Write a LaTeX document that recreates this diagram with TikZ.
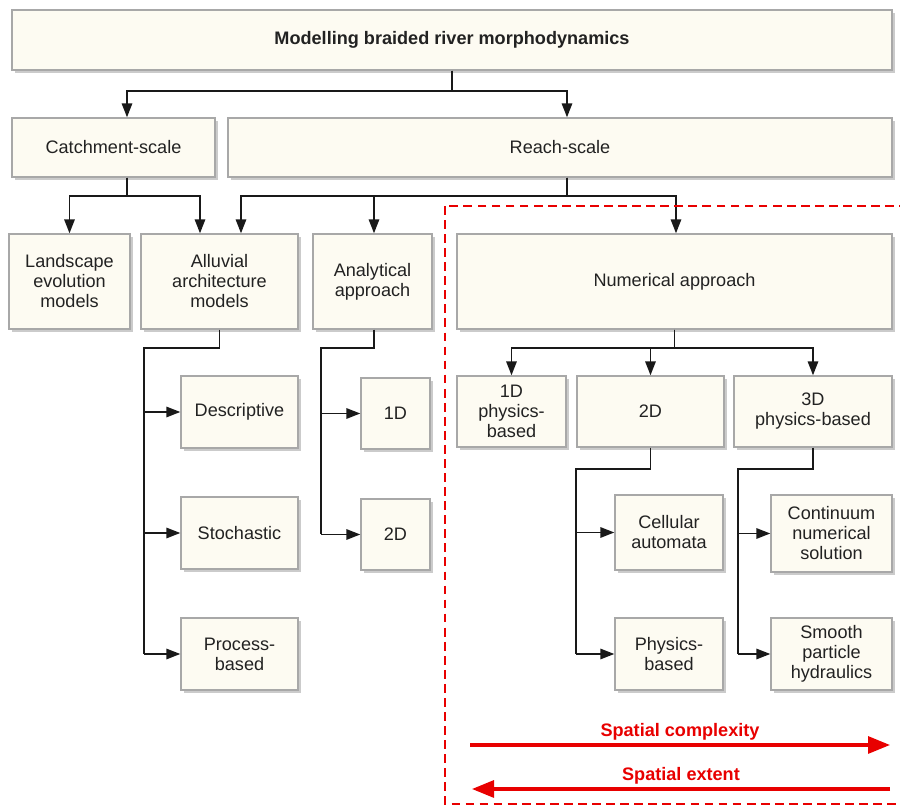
\documentclass[tikz,border=0pt]{standalone}
\usepackage{fontspec}
\setmainfont{Liberation Sans}
\usetikzlibrary{arrows.meta,shadows}
\definecolor{boxfill}{RGB}{253,251,242}
\definecolor{boxline}{RGB}{168,168,168}
\definecolor{textgray}{RGB}{34,34,34}
\definecolor{scalered}{RGB}{232,0,0}
\tikzset{
  block/.style={draw=boxline, fill=boxfill, line width=0.8pt, align=center, inner sep=2pt,
    text=textgray, font=\fontsize{10.3}{11.4}\selectfont,
    drop shadow={shadow xshift=0.06cm, shadow yshift=-0.06cm, fill=black!45, opacity=0.45}},
  flow/.style={-{Triangle[length=2.8mm,width=2.1mm]}, line width=0.95pt, draw=black!90},
  link/.style={line width=0.95pt, draw=black!90},
  scaleflow/.style={-{Triangle[length=4.4mm,width=3.4mm]}, line width=1.8pt, draw=scalered},
  scalelabel/.style={text=scalered, font=\bfseries\fontsize{10.3}{12}\selectfont}
}
\begin{document}
\begin{tikzpicture}
  \useasboundingbox (0,0) rectangle (18,-16.12);

  % Top levels
  \node[block, minimum width=17.6cm, minimum height=1.2cm] (title) at (9.04,-0.80) {\bfseries Modelling braided river morphodynamics};
  \node[block, minimum width=4.06cm, minimum height=1.18cm] (catch) at (2.27,-2.95) {Catchment-scale};
  \node[block, minimum width=13.28cm, minimum height=1.18cm] (reach) at (11.2,-2.95) {Reach-scale};

  % Model families
  \node[block, minimum width=2.42cm, minimum height=1.9cm] (landscape) at (1.39,-5.63) {Landscape\\evolution\\models};
  \node[block, minimum width=3.14cm, minimum height=1.9cm] (alluvial) at (4.39,-5.63) {Alluvial\\architecture\\models};
  \node[block, minimum width=2.38cm, minimum height=1.9cm] (analytical) at (7.45,-5.63) {Analytical\\approach};
  \node[block, minimum width=8.7cm, minimum height=1.9cm] (numerical) at (13.49,-5.63) {Numerical approach};

  % Alluvial architecture
  \node[block, minimum width=2.34cm, minimum height=1.44cm] (descriptive) at (4.79,-8.24) {Descriptive};
  \node[block, minimum width=2.34cm, minimum height=1.44cm] (stochastic) at (4.79,-10.66) {Stochastic};
  \node[block, minimum width=2.34cm, minimum height=1.44cm] (process) at (4.79,-13.08) {Process-\\based};

  % Analytical
  \node[block, minimum width=1.38cm, minimum height=1.42cm] (anone) at (7.91,-8.27) {1D};
  \node[block, minimum width=1.38cm, minimum height=1.42cm] (antwo) at (7.91,-10.69) {2D};

  % Numerical
  \node[block, minimum width=2.18cm, minimum height=1.42cm] (numone) at (10.23,-8.23) {1D\\physics-\\based};
  \node[block, minimum width=2.94cm, minimum height=1.42cm] (numtwo) at (13.01,-8.23) {2D};
  \node[block, minimum width=3.16cm, minimum height=1.42cm] (numthree) at (16.26,-8.23) {3D\\physics-based};
  \node[block, minimum width=2.16cm, minimum height=1.5cm] (cellular) at (13.38,-10.65) {Cellular\\automata};
  \node[block, minimum width=2.16cm, minimum height=1.44cm] (physics) at (13.38,-13.08) {Physics-\\based};
  \node[block, minimum width=2.42cm, minimum height=1.54cm] (continuum) at (16.63,-10.67) {Continuum\\numerical\\solution};
  \node[block, minimum width=2.42cm, minimum height=1.44cm] (smooth) at (16.63,-13.08) {Smooth\\particle\\hydraulics};

  % Tree connectors
  \draw[flow] (title.south) -- ++(0,-0.4) -| ([xshift=0.27cm]catch.north);
  \draw[flow] (title.south) -- ++(0,-0.4) -| ([xshift=0.14cm]reach.north);

  \draw[flow] ([xshift=0.27cm]catch.south) -- ++(0,-0.36) -| (landscape.north);
  \draw[flow] ([xshift=0.27cm]catch.south) -- ++(0,-0.36) -| ([xshift=-0.39cm]alluvial.north);

  \draw[flow] ([xshift=0.14cm]reach.south) -- ++(0,-0.36) -| ([xshift=0.43cm]alluvial.north);
  \draw[flow] ([xshift=0.14cm]reach.south) -- ++(0,-0.36) -| ([xshift=0.03cm]analytical.north);
  \draw[flow] ([xshift=0.14cm]reach.south) -- ++(0,-0.36) -| ([xshift=0.03cm]numerical.north);

  \draw[link] (alluvial.south) -- ++(0,-0.36) -| ([xshift=-0.72cm]process.west);
  \foreach \n in {descriptive,stochastic,process}
    \draw[flow] ([xshift=-0.72cm]\n.west) -- (\n.west);

  \draw[link] ([xshift=0.03cm]analytical.south) -- ++(0,-0.36) -| ([xshift=-0.78cm]antwo.west);
  \foreach \n in {anone,antwo}
    \draw[flow] ([xshift=-0.78cm]\n.west) -- (\n.west);

  \foreach \n in {numone,numtwo,numthree}
    \draw[flow] (numerical.south) -- ++(0,-0.36) -| (\n.north);

  \draw[link] (numtwo.south) -- ++(0,-0.42) -| ([xshift=-0.76cm]physics.west);
  \foreach \n in {cellular,physics}
    \draw[flow] ([xshift=-0.76cm]\n.west) -- (\n.west);

  \draw[link] (numthree.south) -- ++(0,-0.42) -| ([xshift=-0.64cm]smooth.west);
  \foreach \n in {continuum,smooth}
    \draw[flow] ([xshift=-0.64cm]\n.west) -- (\n.west);

  % Numerical domain
  \draw[scalered, dashed, line width=1.1pt, dash pattern=on 5pt off 3pt] (8.9,-4.12) rectangle (18.3,-16.08);

  \coordinate (cplxstart) at (9.4,-14.9);
  \coordinate (cplxend) at (17.8,-14.9);
  \coordinate (extstart) at (17.8,-15.78);
  \coordinate (extend) at (9.44,-15.78);
  \draw[scaleflow] (cplxstart) -- node[scalelabel, above=-1.5pt] {Spatial complexity} (cplxend);
  \draw[scaleflow] (extstart) -- node[scalelabel, above=-1.5pt] {Spatial extent} (extend);
\end{tikzpicture}
\end{document}
